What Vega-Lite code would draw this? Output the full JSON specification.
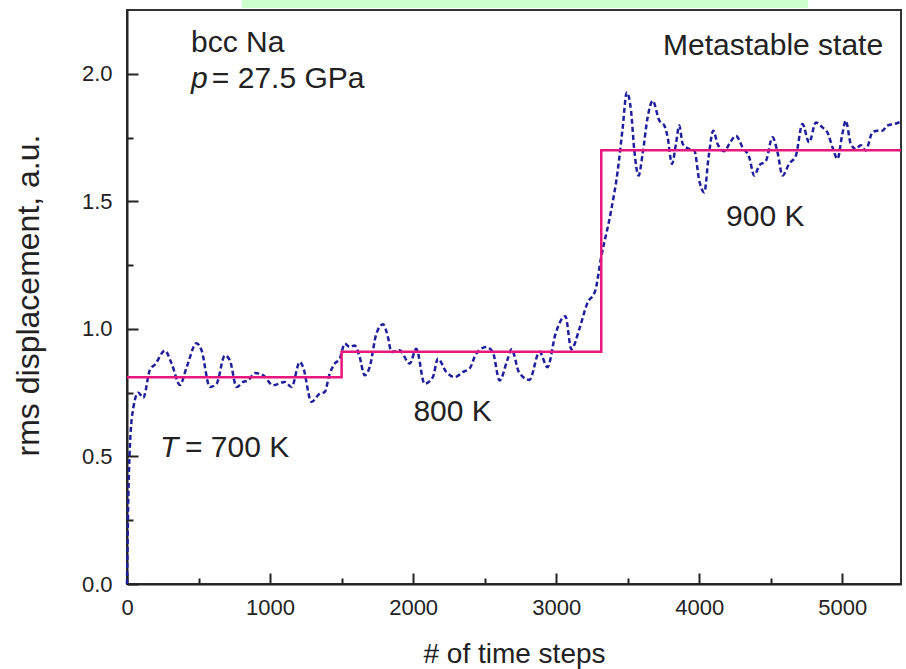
{
  "$schema": "https://vega.github.io/schema/vega-lite/v6.json",
  "width": 774,
  "height": 574,
  "autosize": {"type": "none"},
  "padding": {"left": 127, "top": 10, "right": 5, "bottom": 85},
  "background": "white",
  "config": {
    "view": {"stroke": "#333", "strokeWidth": 2},
    "font": "Liberation Sans",
    "axis": {
      "grid": false,
      "domainColor": "#222",
      "domainWidth": 2,
      "tickColor": "#222",
      "tickWidth": 2,
      "labelFont": "Liberation Sans",
      "labelFontSize": 22,
      "labelColor": "#222",
      "labelFlush": false,
      "titleFont": "Liberation Sans",
      "titleFontWeight": "normal",
      "titleColor": "#222"
    }
  },
  "datasets": {
    "curve": [
      {"step": 0, "rms": 0.0}, {"step": 8, "rms": 0.3}, {"step": 21, "rms": 0.55}, {"step": 44, "rms": 0.69},
      {"step": 79, "rms": 0.75}, {"step": 114, "rms": 0.73}, {"step": 160, "rms": 0.84}, {"step": 195, "rms": 0.86},
      {"step": 265, "rms": 0.915}, {"step": 312, "rms": 0.864}, {"step": 370, "rms": 0.78}, {"step": 417, "rms": 0.85},
      {"step": 486, "rms": 0.944}, {"step": 521, "rms": 0.916}, {"step": 579, "rms": 0.772}, {"step": 626, "rms": 0.785},
      {"step": 684, "rms": 0.896}, {"step": 719, "rms": 0.877}, {"step": 766, "rms": 0.772}, {"step": 812, "rms": 0.792},
      {"step": 847, "rms": 0.798}, {"step": 894, "rms": 0.827}, {"step": 952, "rms": 0.818}, {"step": 1021, "rms": 0.779},
      {"step": 1103, "rms": 0.792}, {"step": 1150, "rms": 0.772}, {"step": 1208, "rms": 0.87}, {"step": 1231, "rms": 0.85},
      {"step": 1289, "rms": 0.714}, {"step": 1347, "rms": 0.746}, {"step": 1382, "rms": 0.753}, {"step": 1417, "rms": 0.825},
      {"step": 1452, "rms": 0.864}, {"step": 1487, "rms": 0.883}, {"step": 1522, "rms": 0.942}, {"step": 1557, "rms": 0.929},
      {"step": 1592, "rms": 0.935}, {"step": 1626, "rms": 0.89}, {"step": 1661, "rms": 0.818}, {"step": 1696, "rms": 0.85},
      {"step": 1743, "rms": 0.981}, {"step": 1789, "rms": 1.018}, {"step": 1824, "rms": 0.968}, {"step": 1848, "rms": 0.909},
      {"step": 1906, "rms": 0.916}, {"step": 1976, "rms": 0.864}, {"step": 2022, "rms": 0.922}, {"step": 2080, "rms": 0.785},
      {"step": 2138, "rms": 0.811}, {"step": 2173, "rms": 0.883}, {"step": 2232, "rms": 0.831}, {"step": 2290, "rms": 0.811},
      {"step": 2348, "rms": 0.831}, {"step": 2394, "rms": 0.844}, {"step": 2441, "rms": 0.903}, {"step": 2511, "rms": 0.929},
      {"step": 2557, "rms": 0.909}, {"step": 2604, "rms": 0.798}, {"step": 2660, "rms": 0.88}, {"step": 2688, "rms": 0.92},
      {"step": 2740, "rms": 0.83}, {"step": 2813, "rms": 0.8}, {"step": 2883, "rms": 0.91}, {"step": 2939, "rms": 0.85},
      {"step": 2995, "rms": 0.98}, {"step": 3064, "rms": 1.05}, {"step": 3106, "rms": 0.92}, {"step": 3162, "rms": 1.0},
      {"step": 3217, "rms": 1.1}, {"step": 3273, "rms": 1.15}, {"step": 3314, "rms": 1.28}, {"step": 3384, "rms": 1.464},
      {"step": 3430, "rms": 1.62}, {"step": 3465, "rms": 1.79}, {"step": 3493, "rms": 1.927}, {"step": 3523, "rms": 1.855},
      {"step": 3546, "rms": 1.699}, {"step": 3576, "rms": 1.601}, {"step": 3604, "rms": 1.686}, {"step": 3639, "rms": 1.829},
      {"step": 3674, "rms": 1.894}, {"step": 3721, "rms": 1.816}, {"step": 3756, "rms": 1.797}, {"step": 3779, "rms": 1.751},
      {"step": 3809, "rms": 1.647}, {"step": 3837, "rms": 1.725}, {"step": 3860, "rms": 1.797}, {"step": 3884, "rms": 1.725},
      {"step": 3930, "rms": 1.705}, {"step": 3965, "rms": 1.7}, {"step": 4000, "rms": 1.581}, {"step": 4035, "rms": 1.535},
      {"step": 4065, "rms": 1.673}, {"step": 4098, "rms": 1.777}, {"step": 4128, "rms": 1.725}, {"step": 4175, "rms": 1.696},
      {"step": 4210, "rms": 1.725}, {"step": 4256, "rms": 1.757}, {"step": 4302, "rms": 1.712}, {"step": 4349, "rms": 1.673},
      {"step": 4384, "rms": 1.601}, {"step": 4419, "rms": 1.64}, {"step": 4466, "rms": 1.659}, {"step": 4512, "rms": 1.751},
      {"step": 4547, "rms": 1.692}, {"step": 4582, "rms": 1.601}, {"step": 4628, "rms": 1.647}, {"step": 4675, "rms": 1.679},
      {"step": 4721, "rms": 1.803}, {"step": 4768, "rms": 1.731}, {"step": 4815, "rms": 1.809}, {"step": 4861, "rms": 1.79},
      {"step": 4896, "rms": 1.77}, {"step": 4931, "rms": 1.712}, {"step": 4966, "rms": 1.666}, {"step": 5000, "rms": 1.764},
      {"step": 5024, "rms": 1.816}, {"step": 5059, "rms": 1.725}, {"step": 5094, "rms": 1.705}, {"step": 5129, "rms": 1.72},
      {"step": 5163, "rms": 1.699}, {"step": 5210, "rms": 1.77}, {"step": 5245, "rms": 1.777}, {"step": 5280, "rms": 1.777},
      {"step": 5314, "rms": 1.797}, {"step": 5361, "rms": 1.803}, {"step": 5400, "rms": 1.81}
    ],
    "temps": [
      {"step": 0, "rms": 0.81}, {"step": 1500, "rms": 0.91}, {"step": 3315, "rms": 1.70}, {"step": 5410, "rms": 1.70}
    ],
    "leftLabels": [
      {"step": 447, "rms": 2.121, "text": "bcc Na"},
      {"step": 593, "rms": 1.98, "text": "= 27.5 GPa"},
      {"step": 405, "rms": 0.532, "text": "= 700 K"}
    ],
    "rightLabels": [
      {"step": 5285, "rms": 2.11, "text": "Metastable state"}
    ],
    "centerLabels": [
      {"step": 4461, "rms": 1.44, "text": "900 K"},
      {"step": 2276, "rms": 0.673, "text": "800 K"}
    ],
    "italics": [
      {"step": 447, "rms": 1.98, "text": "p"},
      {"step": 230, "rms": 0.532, "text": "T"}
    ],
    "banner": [
      {"x1": 803, "x2": 4761, "y1": 2.258, "y2": 2.292}
    ]
  },
  "resolve": {"axis": {"x": "independent", "y": "independent"}},
  "layer": [
    {
      "data": {"name": "banner"},
      "mark": {"type": "rect", "color": "#ccffcc", "clip": false},
      "encoding": {
        "x": {"field": "x1", "type": "quantitative", "axis": null},
        "x2": {"field": "x2"},
        "y": {"field": "y1", "type": "quantitative", "axis": null},
        "y2": {"field": "y2"}
      }
    },
    {
      "data": {"name": "curve"},
      "mark": {"type": "line", "color": "#1f1f9c", "strokeWidth": 2.5, "strokeDash": [5, 3], "interpolate": "monotone"},
      "encoding": {
        "x": {"field": "step", "type": "quantitative",
              "scale": {"domain": [0, 5410], "nice": false, "zero": false},
              "axis": {"orient": "bottom", "values": [0, 1000, 2000, 3000, 4000, 5000], "tickSize": -11, "labelPadding": 24, "title": "# of time steps", "titleFontSize": 28, "titlePadding": 22, "format": "d"}},
        "y": {"field": "rms", "type": "quantitative",
              "scale": {"domain": [0, 2.25], "nice": false, "zero": false},
              "axis": {"orient": "left", "values": [0, 0.5, 1.0, 1.5, 2.0], "tickSize": -11, "labelPadding": 26, "format": ".1f", "title": "rms displacement, a.u.", "titleFontSize": 32, "titlePadding": 36, "titleY": 285}}
      }
    },
    {
      "data": {"name": "temps"},
      "mark": {"type": "line", "color": "#e8177d", "strokeWidth": 2.5, "interpolate": "step-after"},
      "encoding": {
        "x": {"field": "step", "type": "quantitative",
              "axis": {"orient": "bottom", "values": [500, 1500, 2500, 3500, 4500], "tickSize": -6, "labels": false, "domain": false, "title": null}},
        "y": {"field": "rms", "type": "quantitative",
              "axis": {"orient": "left", "values": [0.25, 0.75, 1.25, 1.75], "tickSize": -6, "labels": false, "domain": false, "title": null}}
      }
    },
    {
      "data": {"name": "leftLabels"},
      "mark": {"type": "text", "fontSize": 30, "color": "#222", "baseline": "middle", "align": "left", "font": "Liberation Sans"},
      "encoding": {
        "x": {"field": "step", "type": "quantitative", "axis": null},
        "y": {"field": "rms", "type": "quantitative", "axis": null},
        "text": {"field": "text"}
      }
    },
    {
      "data": {"name": "rightLabels"},
      "mark": {"type": "text", "fontSize": 30, "color": "#222", "baseline": "middle", "align": "right", "font": "Liberation Sans"},
      "encoding": {
        "x": {"field": "step", "type": "quantitative", "axis": null},
        "y": {"field": "rms", "type": "quantitative", "axis": null},
        "text": {"field": "text"}
      }
    },
    {
      "data": {"name": "centerLabels"},
      "mark": {"type": "text", "fontSize": 30, "color": "#222", "baseline": "middle", "align": "center", "font": "Liberation Sans"},
      "encoding": {
        "x": {"field": "step", "type": "quantitative", "axis": null},
        "y": {"field": "rms", "type": "quantitative", "axis": null},
        "text": {"field": "text"}
      }
    },
    {
      "data": {"name": "italics"},
      "mark": {"type": "text", "fontSize": 30, "color": "#222", "baseline": "middle", "align": "left", "fontStyle": "italic", "font": "Liberation Sans"},
      "encoding": {
        "x": {"field": "step", "type": "quantitative", "axis": null},
        "y": {"field": "rms", "type": "quantitative", "axis": null},
        "text": {"field": "text"}
      }
    }
  ]
}
